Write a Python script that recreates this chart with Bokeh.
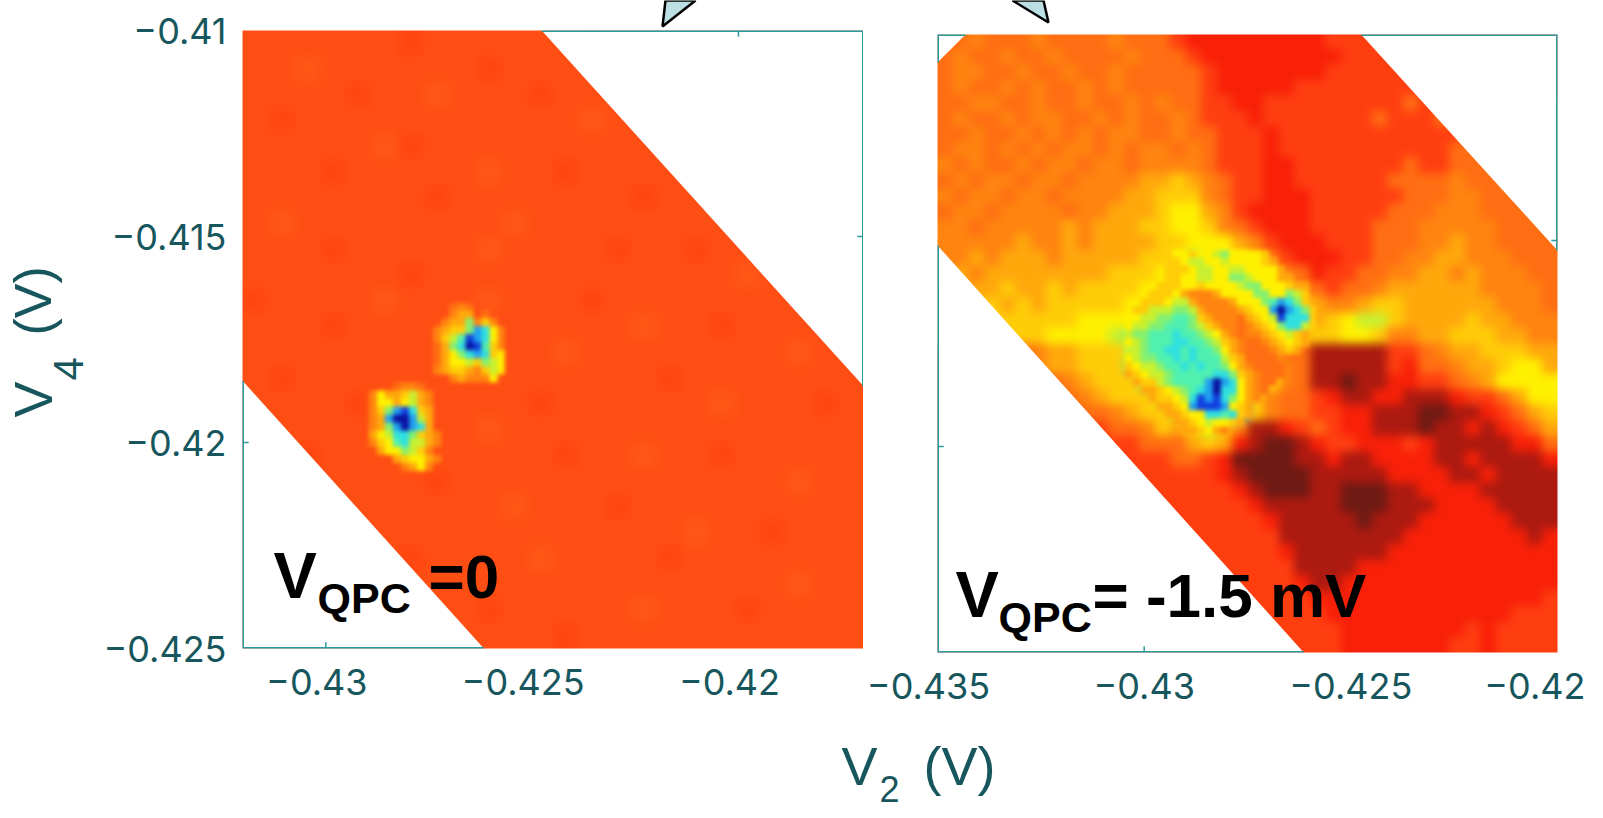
import math
import numpy as np
from bokeh.core.properties import value
from bokeh.embed import file_html
from bokeh.layouts import column, row
from bokeh.models import FixedTicker, LinearColorMapper, Range1d
from bokeh.plotting import figure
from bokeh.resources import INLINE

LEVELS = "KDRrqoOayYgGtcbBNps"
COLORS = ["#6f1a14", "#ac1a10", "#f82008", "#ff3e10", "#ff4e14", "#ff6e12", "#ff8410",
          "#ffa80c", "#ffcc08", "#fff000", "#c8f030", "#84f070", "#50f0b0", "#30e0e0",
          "#20a0f0", "#1040e0", "#0a10a0", "#ff4811", "#ff5616"]

LEFT_COARSE = [
    "qqqqq qpqqq qqqpq qqqqp qqqq", "qqsqq qqqqp qqqqq qpqqq qpqq", "qqqqp qqsqq qpqqq qqqqq qqqq",
    "qpqqq qqqqq qqqsq qqpqq qqqq", "qqqqq spqqq qqqqq qqqqq pqqq", "qqqpq qqqqs qqpqq qqsqq qqqp",
    "qqqqq qqpqq qqqqq pqqqq qqqq", "qsqqq qqqqq sqqqq qqqqq sqqq", "qqqpq qqqqs qqqqp qqpqq qqqq",
    "qqqqq qpqqq qqqqq qqqqs qqpq", "pqqqq sqqqs qqqpq qqqqq qqqq", "qqqpq qqqqq qqqqq sqqpq qqqq",
    "qqqqq qqqpq qqsqq qqqqq qsqq", "qpqqq qqqqq qqqqq qpqqq qqqq", "qqqqp pqqqq qpqqq qqqsq qqpq",
    "qqqqq qqqqs qqqqq qqqqq qqqq", "qqpqq qqqqq qqpqq sqqpq qqqq", "qqqqq qqpqq qqqqq qqqqq qsqq",
    "qqqqq qqqqq sqqqp qqqqq qqqq", "qpqqq qqqqq qqqqq qqsqq pqqq", "qqqqq qpqqq qsqqq qpqqq qqqq",
    "qqqqq qqqqq qqqqq qqqqq qsqq", "qqpqq qqqqp qqqqq sqqqp qqqq", "qqqqq qqqqq qqpqq qqqqq qqqq",
]
LEFT_FINE = [
    "..........oOo....", "..........Oaa.o..", ".........OaaGOyO.", "........OayyGbcYO",
    "........OygtBbcYO", "........oaGcNBtyO", "........oaYGcbcyY", "........oaYYgyGgY",
    "........OayyaOygY", "..........OaOOOY.", "...oOOo..........", "OYaaygaO.........",
    "OYYaYgaO.........", "OyGbBcya.........", "OabNNbga.........", "OaGbNbca.........",
    "aYgccGyaO........", "OyYtcggaO........", ".aYYGgyO.........", "...ayYYaO........",
    "....OaYO.........",
]
RIGHT_COARSE = [
    "ooOoo oOooo oOooo rRRRR RRRRR rrrrr rrrrr rrrrr",
    "oOooO ooOoo ooOoo orRRR RRRRR Rrrrr rrrrr rrrrr",
    "oOOoo OooOo oOooo oorRR RRRRR rrrrr rrrrr rrrrr",
    "oOooO oOooO oOooo oorRR RRRrr rrrrr rrrrr rrrrr",
    "ooOOo oOooO ooOoO oorrR Rrrrr rrrrr orooo ooooo",
    "oOooO oOOoo OoOoo Oorrr Rrrrr rrror rrooo ooooo",
    "ooOoo OoOoO oOOoo Ooorr rRrrr rrrrr rrrro ooooo",
    "oOOoO oOoOO oOoOO oOorr rRrrr rrrrr rrroo ooooo",
    "OoOoo OoOOo OOoOO OOorr rRRrr rrrrr orroo ooooo",
    "oOoOO oOOoO OOOaa yaOor rRRrr rrrro oooOo ooooo",
    "OoOOo OOoOO OOaay yyOor rRRRr rrrrr oooOO ooooo",
    "oOOoO OOOoO Oaaay YYaOr RRRRr rrrro ooOOO ooooo",
    "OOoOO OOOaO aaayy YYyOo rRRRr rrroo oOOOO Ooooo",
    "OOOOO aOOaO aaaay yYYYa OrRRR rrroo oOOaO Ooooo",
    "OOaOa aaOaa aaayy YgYYY aOrRR Rrroo OOaaO OOooo",
    "OaOaa aaaaa ayyyY YggYY YaOoR rrooO OaaOa OOOoo",
    "aOaay aayay yyyYY OOggY YyaOo rooOa aaaaa OOOOo",
    "aaaya yayyy yyYYa OOOgg YYyaa OOayy aaaaa aOOOo",
    "aayyy yyyyY YYYgg OOoOg gYYya yYggy aaaay aaOOO",
    "yayyy yyYYY YgGGG GaOOo OaYyy yYYyO Oaayy yaaOO",
    "rrrrr oOaay yygGt ttGya OOooD DDDDr roOaa yyyaa",
    "rrrrr rOaay yyGtt ttttG yOOoD DDDDr RooOa ayYYa",
    "rrrrr rroOa yyyGt ttttt GYOoD DKDDR RrroO aYYYY",
    "rrrrr rrroO ayyyg ttttb yOoor RDDRR DDDRr roaYY",
    "rrrrr rrrro oOayy gtbBb yOoor rRRDD DKKDD Rroay",
    "rrrrr rrrrr rooOy aygyO DDRro rRRDD DKDDR DRroa",
    "rrrrr rrrrr rrroo oayaR DKKDR rrRRR rRDDD DDRRo",
    "rrrrr rrrrr rrrrr oorRK KKKDD RDDRR RRDDR DDDDR",
    "rrrrr rrrrr rrrrr rrrRD KKKKD DDDDR RRRDD RDDDD",
    "rrrrr rrrrr rrrrr rrrrR DKKKD DKKKD DRRRR DDDDD",
    "rrrrr rrrrr rrrrr rrrrr RDDDD DKKKD DDRRR RDDDD",
    "rrrrr rrrrr rrrrr rrrrr rRDDD DDKDD DRRRR RRDDD",
    "rrrrr rrrrr rrrrr rrrrr rrDDD DDDDD RRRRR RRRDR",
    "rrrrr rrrrr rrrrr rrrrr rrRDD DDDDR RRRRR RRRRR",
    "rrrrr rrrrr rrrrr rrrrr rrrDD DDRRR RRRRR RRRRR",
    "rrrrr rrrrr rrrrr rrrrr rrrRD DRRRR RRRRR RRRRR",
    "rrrrr rrrrr rrrrr rrrrr rrrrR RRRRR RRRRR RRRRr",
    "rrrrr rrrrr rrrrr rrrrr rrrrr RRRRR RRRRR RRrrr",
    "rrrrr rrrrr rrrrr rrrrr rrrrr rRRRR RRRRr Rrrrr",
    "rrrrr rrrrr rrrrr rrrrr rrrrr rRRRR RRRrr Rrrrr",
]
RIGHT_FINE = [
    "..... yYYyY YgGYY YYy.. ....", "..... yyYgg YYgYY YYya. ....", "..... yyyYg gYYgg YYYYa ....",
    "..... yyYYg gYYGG gYYYa a...", "....y yyYYy YYYYg GGYYY yaa.", "...yy yYaOO OaYYY YGGYY Ggy.",
    "..yyy YggaO OOOaY YYGtb cGya", ".yygg gGGga OOOOa yYYbN bcGy", "YYggG GttGy aOOOo ayYgB cccy",
    "YggGG tttGg yaOOo OayYG ccgy", "gGGtt tcttG gYaOo OOayY gya.", "YgGtt tcctt GgyaO ooOay Yya.",
    "ggGtt cctct tGYaO oooOa ya..", "YgGGt tctct ttgya ooooO ....", "yYggG ttctc ttGYa Ooooo ....",
    "ayYgg Gtttt tccGy aOooo ....", ".ayyg Gtttt bNbcY aOoo. ....", "..aay YgGtc bNccY aOo.. ....",
    "...ay yYgcB bBcGY aO... ....", "....a ayYbB BBbYy a.... ....", "..... aayYY cctcy a.... ....",
    "..... .aayY gYYya ..... ....", "..... ..aay YaO.. ..... ....",
]

X_TICKS_LEFT = [-0.43, -0.425, -0.42]
X_TICKS_RIGHT = [-0.435, -0.43, -0.425, -0.42]
Y_TICKS = [-0.41, -0.415, -0.42, -0.425]
Y_LABELS = {-0.41: "\u22120.41", -0.415: "\u22120.415", -0.42: "\u22120.42", -0.425: "\u22120.425"}
X_LABELS_LEFT = {-0.43: "\u22120.43\u2002", -0.425: "\u22120.425\u2002", -0.42: "\u22120.42\u2002"}
X_LABELS_RIGHT = {-0.435: "\u22120.435\u2002", -0.43: "\u22120.43", -0.425: "\u22120.425", -0.42: "\u22120.42\u2002"}

LEFT_XR = (-0.43202, -0.41697)
RIGHT_XR = (-0.435, -0.42)
YR = (-0.425, -0.41)
LEFT_TR_X, LEFT_TR_Y = [-0.42477, LEFT_XR[1], LEFT_XR[1]], [YR[1], -0.41863, YR[1]]
LEFT_BL_X, LEFT_BL_Y = [LEFT_XR[0], -0.42617, LEFT_XR[0]], [-0.4185, YR[0], YR[0]]
RIGHT_TR_X, RIGHT_TR_Y = [-0.42475, RIGHT_XR[1], RIGHT_XR[1]], [YR[1], -0.41524, YR[1]]
RIGHT_BL_X, RIGHT_BL_Y = [RIGHT_XR[0], -0.42614, RIGHT_XR[0]], [-0.41512, YR[0], YR[0]]
RIGHT_TL_X, RIGHT_TL_Y = [RIGHT_XR[0], -0.43432, RIGHT_XR[0]], [-0.41068, YR[1], YR[1]]

TEAL = "#2a9a9f"
INK = "#17565c"
ARROW = "#bcdfe3"
H = 814
TICK = 0.00015

# soft raster look of the scan: the first image of each panel gets the wider blur
SOFT_JS = """<script>
function walk(root,out){root.querySelectorAll('*').forEach(function(e){
 if(e.shadowRoot)walk(e.shadowRoot,out);
 if(e.tagName&&e.tagName.toLowerCase()==='image')out.push(e);});return out;}
function soft(){var a=walk(document,[]);a.forEach(function(e,i){
 e.style.filter=(i%2==0)?'blur(5px)':'blur(2px)';});}
[200,600,1000,1500,2500].forEach(function(t){setTimeout(soft,t);});
</script></body>"""


def grid(rows):
    rows = [r.replace(" ", "") for r in rows]
    w = max(len(r) for r in rows)
    a = np.array([[LEVELS.index(c) if c != "." else np.nan for c in r.ljust(w, r[-1])] for r in rows], dtype=float)
    return np.flipud(a)


mapper = LinearColorMapper(palette=COLORS, low=-0.5, high=len(COLORS) - 0.5, nan_color="#00000000")


def base_image(p, rows, xr):
    a = grid(rows)
    cw, ch = (xr[1] - xr[0]) / a.shape[1], (YR[1] - YR[0]) / a.shape[0]
    a = np.pad(a, 1, mode="edge")
    p.image(image=[a], x=xr[0] - cw, y=YR[0] - ch, dw=xr[1] - xr[0] + 2 * cw, dh=YR[1] - YR[0] + 2 * ch, color_mapper=mapper)


def panel(xr, ticks, labels, width, left, right):
    p = figure(width=width, height=H, x_range=Range1d(*xr), y_range=Range1d(*YR), output_backend="svg",
               toolbar_location=None, min_border_left=left, min_border_right=right, min_border_top=30,
               min_border_bottom=H - 30 - 618, border_fill_color=None, background_fill_color=None,
               outline_line_color=None)
    p.grid.visible = False
    for ax in (p.xaxis[0], p.yaxis[0]):
        ax.axis_line_color = None
        ax.major_tick_line_color = None
        ax.minor_tick_line_color = None
        ax.major_label_text_font = "Inter"
        ax.major_label_text_font_size = "36px"
        ax.major_label_text_color = INK
    p.xaxis[0].ticker = FixedTicker(ticks=ticks)
    p.yaxis[0].ticker = FixedTicker(ticks=Y_TICKS)
    p.xaxis[0].major_label_overrides = labels
    p.yaxis[0].major_label_overrides = Y_LABELS
    p.xaxis[0].major_label_standoff = 5
    p.yaxis[0].major_label_standoff = 10
    return p


# Left panel
p1 = panel(LEFT_XR, X_TICKS_LEFT, X_LABELS_LEFT, 863, 242, 0)
base_image(p1, LEFT_COARSE, LEFT_XR)
p1.image(image=[grid(LEFT_FINE)], x=-0.42896, y=-0.42069, dw=0.003293, dh=0.004076, color_mapper=mapper)
p1.patch(LEFT_TR_X, LEFT_TR_Y, fill_color="white", line_color=None)
p1.patch(LEFT_BL_X, LEFT_BL_Y, fill_color="white", line_color=None)
p1.line([LEFT_TR_X[0], LEFT_XR[1], LEFT_XR[1]], [YR[1], YR[1], LEFT_TR_Y[1]], line_color=TEAL, line_width=3)
p1.line([LEFT_XR[0], LEFT_XR[0], LEFT_BL_X[1]], [LEFT_BL_Y[0], YR[0], YR[0]], line_color=TEAL, line_width=3)
p1.segment([-0.43, -0.42], [YR[0], YR[1]], [-0.43, -0.42], [YR[0] + TICK, YR[1] - TICK], line_color=TEAL, line_width=1.5)
p1.segment([LEFT_XR[0], LEFT_XR[1] - TICK], [-0.42, -0.415], [LEFT_XR[0] + TICK, LEFT_XR[1]], [-0.42, -0.415], line_color=TEAL, line_width=1.5)

# Right panel
p2 = panel(RIGHT_XR, X_TICKS_RIGHT, X_LABELS_RIGHT, 803, 137, 46)
p2.yaxis.visible = False
base_image(p2, RIGHT_COARSE, RIGHT_XR)
p2.image(image=[grid(RIGHT_FINE)], x=-0.43048, y=-0.41971, dw=0.004645, dh=0.004466, color_mapper=mapper)
for xs, ys in ((RIGHT_TR_X, RIGHT_TR_Y), (RIGHT_BL_X, RIGHT_BL_Y), (RIGHT_TL_X, RIGHT_TL_Y)):
    p2.patch(xs, ys, fill_color="white", line_color=None)
p2.line([RIGHT_TR_X[0], RIGHT_XR[1], RIGHT_XR[1]], [YR[1], YR[1], RIGHT_TR_Y[1]], line_color=TEAL, line_width=3)
p2.line([RIGHT_XR[0], RIGHT_XR[0], RIGHT_BL_X[1]], [RIGHT_BL_Y[0], YR[0], YR[0]], line_color=TEAL, line_width=3)
p2.line([RIGHT_XR[0], RIGHT_XR[0], RIGHT_TL_X[1]], [RIGHT_TL_Y[0], YR[1], YR[1]], line_color=TEAL, line_width=3)
p2.segment([RIGHT_XR[0], RIGHT_XR[1] - TICK], [-0.42, -0.415], [RIGHT_XR[0] + TICK, RIGHT_XR[1]], [-0.42, -0.415], line_color=TEAL, line_width=1.5)
p2.segment([-0.43], [YR[0]], [-0.43], [YR[0] + TICK], line_color=TEAL, line_width=1.5)

# Transparent page-sized overlay: figure annotations laid out in page pixels
ov = figure(width=1603, height=818, x_range=Range1d(0, 1603), y_range=Range1d(818, 0), output_backend="svg",
            toolbar_location=None, min_border=0, border_fill_color=None, background_fill_color=None,
            outline_line_color=None, x_axis_location=None, y_axis_location=None)
ov.grid.visible = False
ov.patch([665, 662, 695], [0, 26, 0], fill_color=ARROW, line_color="black", line_width=2.5)
ov.patch([1012, 1048, 1043], [0, 22, 0], fill_color=ARROW, line_color="black", line_width=2.5)


def txt(x, y, text, size, color="black", bold=False, angle=0.0):
    ov.text([x], [y], text=[text], text_font=value("Liberation Sans"), text_font_size=f"{size}px",
            text_color=color, text_font_style="bold" if bold else "normal", text_baseline="alphabetic",
            text_align="left", angle=angle)


txt(273, 575, "V", 65, bold=True)
txt(317, 597, "QPC", 43, bold=True)
txt(428, 576, "=0", 62, bold=True)
txt(955, 594, "V", 65, bold=True)
txt(998, 616, "QPC", 43, bold=True)
txt(1092, 595, "= -1.5 mV", 62, bold=True)
txt(32, 417, "V", 54, color=INK, angle=math.pi / 2)
txt(68, 380, "4", 42, color=INK, angle=math.pi / 2)
txt(32, 335, "(V)", 52, color=INK, angle=math.pi / 2)
txt(841, 765, "V", 54, color=INK)
txt(879, 788, "2", 36, color=INK)
txt(923, 765, "(V)", 54, color=INK)

panels = row(p1, p2, spacing=0)
p2.margin = (4, 0, 0, -63)
ov.margin = (-818, 0, 0, 0)
page = column(panels, ov, spacing=0)
html = file_html(page, INLINE).replace("</body>", SOFT_JS)
open("out.html", "w").write(html)
